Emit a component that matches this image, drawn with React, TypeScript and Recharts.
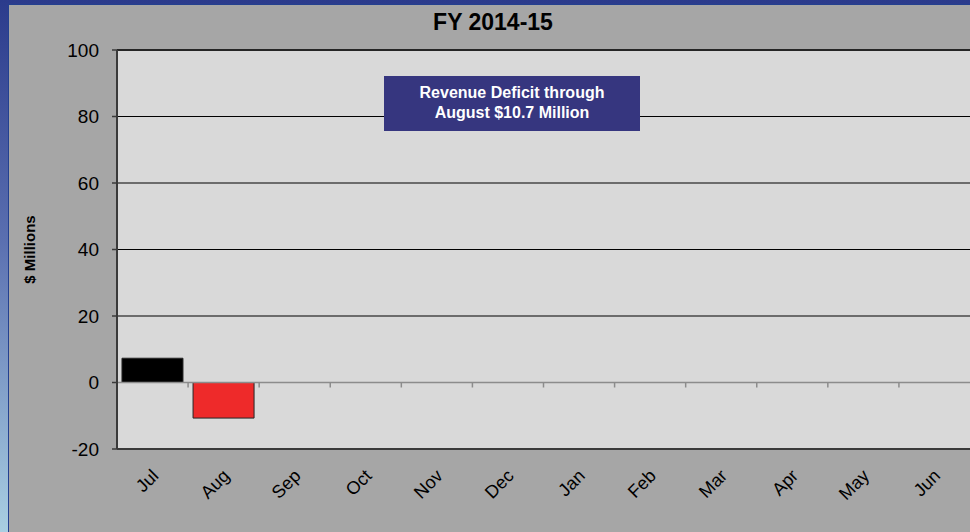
import React from 'react'
import {
  BarChart,
  Bar,
  XAxis,
  YAxis,
  Cell,
  ReferenceLine,
  ReferenceArea,
} from 'recharts'

// fiscal months and monthly revenue variance ($ millions)
const months = ['Jul', 'Aug', 'Sep', 'Oct', 'Nov', 'Dec', 'Jan', 'Feb', 'Mar', 'Apr', 'May', 'Jun']
const variance: (number | null)[] = [7.3, -10.7, null, null, null, null, null, null, null, null, null, null]
const yTicks = [-20, 0, 20, 40, 60, 80, 100]
const gridValues = [20, 40, 60, 80]

const barColors = ['#000000', '#ee2a2a']

const data = months.map((m, i) => ({ month: m, value: variance[i] }))

const FONT = '"Liberation Sans", Arial, sans-serif'

const MonthTick = (props: any) => {
  const { x, y, payload } = props
  return (
    <g transform={`translate(${x + 7},${y + 20})`}>
      <text
        textAnchor="end"
        transform="rotate(-45)"
        fontSize={18}
        fontFamily={FONT}
        fill="#000"
      >
        {payload.value}
      </text>
    </g>
  )
}

export default function App() {
  return (
    <div
      style={{
        position: 'fixed',
        left: 0,
        top: 0,
        width: 970,
        height: 532,
        background: 'linear-gradient(180deg, #2b3b8c 0%, #5a6fb0 45%, #a9cfe2 100%)',
        overflow: 'hidden',
      }}
    >
      <div
        style={{
          position: 'absolute',
          left: 8,
          top: 4,
          width: 962,
          height: 528,
          background: '#a6a6a6',
          borderLeft: '1px solid #24408f',
          borderTop: '1px solid #24408f',
        }}
      />
      <div style={{ position: 'absolute', left: 0, top: 0 }}>
        <BarChart
          width={970}
          height={532}
          data={data}
          margin={{ top: 50, right: 0, bottom: 0, left: 0 }}
          barCategoryGap="7%"
        >
          <ReferenceArea y1={-20} y2={100} fill="#d9d9d9" fillOpacity={1} stroke="none" />
          {gridValues.map((v) => (
            <ReferenceLine key={v} y={v} stroke="#000" strokeWidth={1.2} />
          ))}
          <ReferenceLine y={100} stroke="#262626" strokeWidth={2} />
          <XAxis
            dataKey="month"
            height={83}
            interval={0}
            tick={<MonthTick />}
            tickLine={false}
            axisLine={{ stroke: '#3a3a3a', strokeWidth: 2 }}
          />
          <YAxis
            width={117}
            domain={[-20, 100]}
            ticks={yTicks}
            interval={0}
            tickSize={5}
            tickMargin={13}
            tick={{ fontSize: 19, fill: '#000', fontFamily: FONT }}
            tickLine={{ stroke: '#3a3a3a', strokeWidth: 1.5 }}
            axisLine={{ stroke: '#3a3a3a', strokeWidth: 2 }}
            label={{
              value: '$ Millions',
              angle: -90,
              position: 'insideLeft',
              offset: 30,
              style: { fontSize: 15, fontWeight: 'bold', fill: '#000', fontFamily: FONT, textAnchor: 'middle' },
            }}
          />
          <ReferenceLine y={0} stroke="#8c8c8c" strokeWidth={1.5} />
          {months.slice(1).map((m) => (
            <ReferenceLine
              key={m}
              segment={[{ x: m, y: 0 }, { x: m, y: -1.5 }]}
              position="start"
              stroke="#8c8c8c"
              strokeWidth={1.5}
            />
          ))}
          <Bar dataKey="value" isAnimationActive={false} stroke="#262626" strokeWidth={1}>
            {data.map((d, i) => (
              <Cell key={d.month} fill={barColors[i] || '#000'} />
            ))}
          </Bar>
        </BarChart>
      </div>
      <div
        style={{
          position: 'absolute',
          left: 0,
          top: 9,
          width: 986,
          textAlign: 'center',
          fontFamily: FONT,
          fontWeight: 'bold',
          fontSize: 23,
          color: '#000',
        }}
      >
        FY 2014-15
      </div>
      <div
        style={{
          position: 'absolute',
          left: 384,
          top: 76,
          width: 256,
          height: 55,
          background: '#36367f',
          color: '#fff',
          fontFamily: FONT,
          fontWeight: 'bold',
          fontSize: 16,
          lineHeight: '20px',
          textAlign: 'center',
          boxSizing: 'border-box',
          paddingTop: 7,
        }}
      >
        Revenue Deficit through
        <br />
        August $10.7 Million
      </div>
    </div>
  )
}
